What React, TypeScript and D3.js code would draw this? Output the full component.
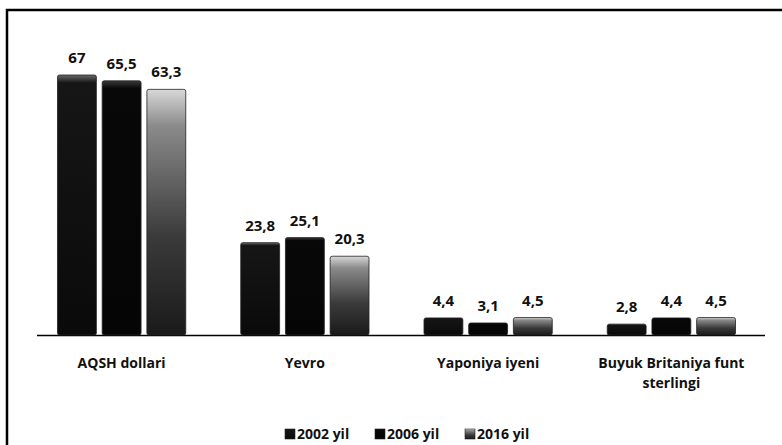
import React from 'react';
import * as d3 from 'd3';

const categories = ['AQSH dollari', 'Yevro', 'Yaponiya iyeni', 'Buyuk Britaniya funt sterlingi'];
const seriesNames = ['2002 yil', '2006 yil', '2016 yil'];
const values2002 = [67, 23.8, 4.4, 2.8];
const values2006 = [65.5, 25.1, 3.1, 4.4];
const values2016 = [63.3, 20.3, 4.5, 4.5];

const W = 782;
const H = 445;
const font = '"Open Sans", Lato, sans-serif';

const wrapLabel = (s: string): string[] =>
  s === 'Buyuk Britaniya funt sterlingi' ? ['Buyuk Britaniya funt', 'sterlingi'] : [s];

const App = () => {
  const series = [values2002, values2006, values2016];
  const baseY = 335;

  const x0 = d3.scaleBand<string>().domain(categories).range([30, 763]).paddingInner(0.3).paddingOuter(0.15);
  const x1 = d3.scaleBand<string>().domain(seriesNames).range([0, x0.bandwidth()]).paddingInner(0.13);
  const y = d3.scaleLinear().domain([0, 67]).range([baseY, 75]);
  const fills = ['url(#g2002)', 'url(#g2006)', 'url(#g2016)'];
  const fmt = (v: number) => String(v).replace('.', ',');

  return (
    <svg width={W} height={H} style={{ position: 'absolute', left: 0, top: 0, background: '#fff' }}>
      <defs>
        <linearGradient id="g2002" x1="0" y1="0" x2="0" y2="1">
          <stop offset="0" stopColor="#6a6a6a" />
          <stop offset="0.03" stopColor="#161616" />
          <stop offset="1" stopColor="#0a0a0a" />
        </linearGradient>
        <linearGradient id="g2006" x1="0" y1="0" x2="0" y2="1">
          <stop offset="0" stopColor="#3a3a3a" />
          <stop offset="0.03" stopColor="#080808" />
          <stop offset="1" stopColor="#050505" />
        </linearGradient>
        <linearGradient id="g2016" x1="0" y1="0" x2="0" y2="1">
          <stop offset="0" stopColor="#d8d8d8" />
          <stop offset="0.15" stopColor="#8a8a8a" />
          <stop offset="0.6" stopColor="#3a3a3a" />
          <stop offset="1" stopColor="#1a1a1a" />
        </linearGradient>
      </defs>
      {/* frame */}
      <path d={`M7,${H} V10 H${W}`} fill="none" stroke="#000" strokeWidth={2.5} />
      {/* axis */}
      <line x1={37} x2={765} y1={baseY + 0.5} y2={baseY + 0.5} stroke="#000" strokeWidth={1.5} />
      {categories.map((c, ci) => (
        <g key={c} transform={`translate(${x0(c)},0)`}>
          {series.map((vals, si) => {
            const bx = x1(seriesNames[si])!;
            const top = y(vals[ci]);
            return (
              <g key={si}>
                <rect x={bx} y={top} width={x1.bandwidth()} height={baseY - top} rx={2} fill={fills[si]} stroke="#222" strokeWidth={0.8} />
                <text x={bx + x1.bandwidth() / 2} y={top - 12} textAnchor="middle" fontFamily={font} fontSize={15} fontWeight="bold" fill="#111">
                  {fmt(vals[ci])}
                </text>
              </g>
            );
          })}
          {wrapLabel(c).map((line, li) => (
            <text key={li} x={x0.bandwidth() / 2} y={368 + li * 20} textAnchor="middle" fontFamily={font} fontSize={14} fontWeight="bold" fill="#111">
              {line}
            </text>
          ))}
        </g>
      ))}
      {/* legend */}
      {seriesNames.map((s, i) => {
        const lx = 285 + i * 90;
        return (
          <g key={s} transform={`translate(${lx},430)`}>
            <rect x={0} y={-1} width={10} height={10} fill={fills[i]} stroke="#222" strokeWidth={0.6} />
            <text x={12} y={9} fontFamily={font} fontSize={14} fontWeight="bold" fill="#111">{s}</text>
          </g>
        );
      })}
    </svg>
  );
};

export default App;
